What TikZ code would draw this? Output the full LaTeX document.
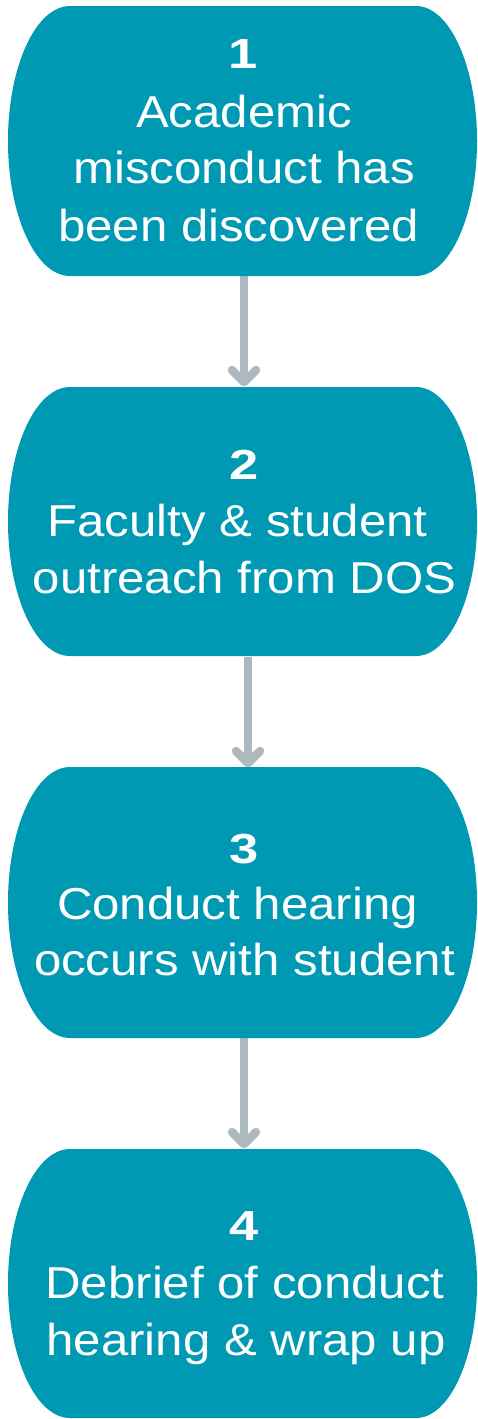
\documentclass[tikz,border=0pt]{standalone}
\usepackage{fontspec}
\setmainfont{Liberation Sans}[FakeStretch=1.1]
\newfontfamily\numfont{Liberation Sans}[FakeStretch=1.25]
\usetikzlibrary{arrows.meta}
\definecolor{stepteal}{HTML}{0099B3}
\definecolor{arrowgray}{HTML}{ADB8BF}
\newcommand\drawstepshape[2]{%
  \pgfmathsetmacro\stepmid{(#1+#2)/2}%
  \pgfmathsetmacro\stepky{0.5523*(#2-#1)/2}%
  \fill[stepteal] (70,#1) -- (416,#1)
    .. controls (449.7,#1) and (477,{\stepmid-\stepky}) .. (477,\stepmid)
    .. controls (477,{\stepmid+\stepky}) and (449.7,#2) .. (416,#2)
    -- (70,#2)
    .. controls (35.8,#2) and (8,{\stepmid+\stepky}) .. (8,\stepmid)
    .. controls (8,{\stepmid-\stepky}) and (35.8,#1) .. (70,#1) -- cycle;
}
\begin{document}
\begin{tikzpicture}[x=1pt,y=-1pt,
  boxframe/.style={minimum width=470pt, minimum height=270pt, inner sep=0pt, draw=none},
  linetext/.style={text=white, font=\fontsize{44.7}{57}\selectfont, anchor=base, inner sep=0pt},
  numtext/.style={text=white, font=\numfont\bfseries\fontsize{42}{50}\selectfont, anchor=base, inner sep=0pt},
  flowarrow/.style={draw=arrowgray, line width=8.5pt, -{Straight Barb[length=12pt,width=24pt,round]}}]
\useasboundingbox (0,0) rectangle (478,1419);
\node[boxframe] (b1) at (243,141) {};
\node[boxframe] (b2) at (243,521.5) {};
\node[boxframe] (b3) at (243,902.5) {};
\node[boxframe] (b4) at (243,1283.5) {};
\draw[flowarrow] ([xshift=1pt]b1.south) -- ([xshift=1pt]b2.north);
\draw[flowarrow] ([xshift=5pt]b2.south) -- ([xshift=5pt]b3.north);
\draw[flowarrow] ([xshift=1pt]b3.south) -- ([xshift=1pt]b4.north);
\drawstepshape{6}{276}
\drawstepshape{387}{656}
\drawstepshape{767}{1038}
\drawstepshape{1149}{1418}
\node[numtext] (n1) at (243.5,68) {1};
\node[linetext] (t1a) at (244,127) {Academic};
\node[linetext] (t1b) at (244,183) {misconduct has};
\node[linetext] (t1c) at (238.5,241) {been discovered};
\node[numtext] (n2) at (244,479) {2};
\node[linetext] (t2a) at (237.5,536) {Faculty \& student};
\node[linetext] (t2b) at (244.5,593) {outreach from DOS};
\node[numtext] (n3) at (244,863) {3};
\node[linetext] (t3a) at (237.5,919) {Conduct hearing};
\node[linetext] (t3b) at (244.5,975) {occurs with student};
\node[numtext] (n4) at (244,1240) {4};
\node[linetext] (t4a) at (245,1298) {Debrief of conduct};
\node[linetext] (t4b) at (246,1355) {hearing \& wrap up};
\end{tikzpicture}
\end{document}
